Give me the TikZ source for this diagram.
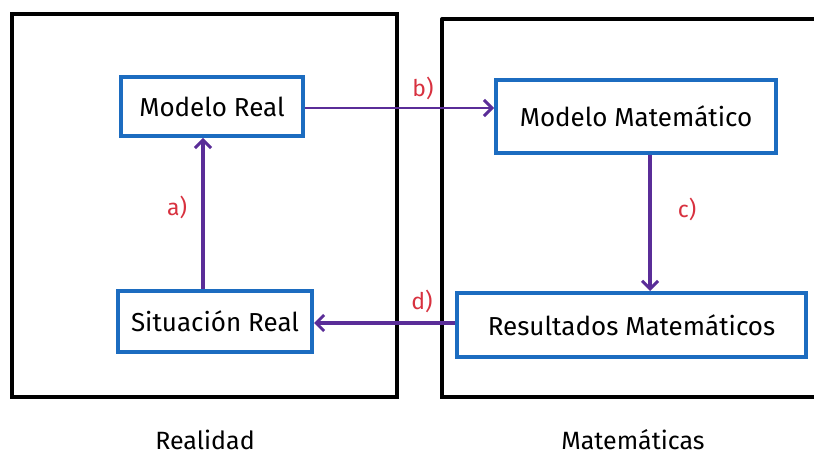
\documentclass[tikz,border=0pt]{standalone}
\usepackage{fontspec}
\setmainfont{Fira Sans}
\usetikzlibrary{arrows.meta}
\definecolor{boxblue}{HTML}{1C6CC0}
\definecolor{arrpurple}{HTML}{5A2D98}
\definecolor{labred}{HTML}{D8313F}
\begin{document}
\begin{tikzpicture}[x=1pt,y=-1pt,
  frame/.style={draw=black,line width=4pt,line cap=round},
  stepbox/.style={draw=boxblue,line width=4pt,fill=white,inner sep=0pt,font=\fontsize{26}{30}\selectfont},
  conn/.style={draw=arrpurple,-{Straight Barb[length=8pt,width=16pt,line width=3pt]}},
  lab/.style={text=labred,font=\fontsize{23}{27}\selectfont},
  title/.style={font=\fontsize{25}{29}\selectfont}]
\useasboundingbox (0,0) rectangle (814,454);
\clip (0,0) rectangle (814,454);
\fill[white] (0,0) rectangle (814,454);
% frames
\draw[frame] (12,14) rectangle (397,397);
\draw[frame] (442,19) -- (830,19) (442,19) -- (442,397) -- (830,397);
% boxes
\node[stepbox,minimum width=182pt,minimum height=59pt] (mr) at (212,106.5) {Modelo Real};
\node[stepbox,minimum width=194pt,minimum height=61pt] (sr) at (215,321.5) {Situación Real};
\node[stepbox,minimum width=280pt,minimum height=73pt] (mm) at (636,116.5) {Modelo Matemático};
\node[stepbox,minimum width=349pt,minimum height=64pt] (rm) at (631.5,325) {Resultados Matemáticos};
% connectors
\draw[conn,line width=3.6pt] (sr.north -| 203,0) -- (mr.south -| 203,0);
\draw[conn,line width=2pt] (mr.east |- 0,108) -- (mm.west |- 0,108);
\draw[conn,line width=3.6pt] (mm.south -| 650,0) -- (rm.north -| 650,0);
\draw[conn,line width=4.6pt] (rm.west |- 0,323) -- (sr.east |- 0,323);
% labels
\node[lab] (la) at (177,207) {a)};
\node[lab] (lb) at (423,88) {b)};
\node[lab] (lc) at (687,209) {c)};
\node[lab] (ld) at (422,301) {d)};
\node[title,anchor=base] (real) at (205,449) {Realidad};
\node[title,anchor=base] (mat) at (633,449) {Matemáticas};
\end{tikzpicture}
\end{document}
